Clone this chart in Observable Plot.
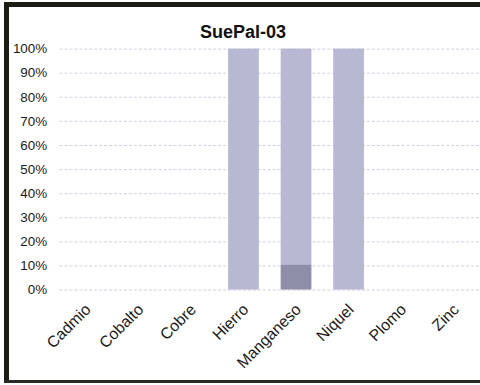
<!DOCTYPE html>
<html>
<head>
<meta charset="utf-8">
<script src="https://cdn.jsdelivr.net/npm/d3@7"></script>
<script src="https://cdn.jsdelivr.net/npm/@observablehq/plot@0.6"></script>
<style>
  html, body { margin: 0; padding: 0; background: #fff; overflow: hidden; }
  body { width: 480px; height: 385px; position: relative; font-family: "Liberation Sans", Arial, sans-serif; }
  .edge { position: absolute; background: #1c1c16; }
  #edge-left { left: 4px; top: 2px; width: 5px; height: 381px; }
  #edge-top { left: 4px; top: 2px; width: 476px; height: 5px; }
  #edge-bottom { left: 4px; top: 380px; width: 476px; height: 3px; background: #2a2a24; }
  #title { position: absolute; left: 0; width: 486px; top: 22px; text-align: center;
           font-size: 18px; font-weight: bold; color: #111; }
  #chart { position: absolute; left: 0; top: 0; width: 480px; height: 385px; overflow: hidden; }
</style>
</head>
<body>
<div class="edge" id="edge-left"></div>
<div class="edge" id="edge-top"></div>
<div class="edge" id="edge-bottom"></div>
<div id="title">SuePal-03</div>
<div id="chart"></div>
<script>
// Metals analysed in sample SuePal-03
const categories = ["Cadmio", "Cobalto", "Cobre", "Hierro", "Manganeso", "Niquel", "Plomo", "Zinc"];
// Share of each metal per series, in percent (stacked to 100%)
const lowerSeries = [0, 0, 0, 0, 10.5, 0, 0, 0];
const upperSeries = [0, 0, 0, 100, 89.5, 100, 0, 0];
const yTicks = [0, 10, 20, 30, 40, 50, 60, 70, 80, 90, 100];

const rows = [];
categories.forEach((c, i) => {
  rows.push({metal: c, serie: "inferior", value: lowerSeries[i]});
  rows.push({metal: c, serie: "superior", value: upperSeries[i]});
});

const chart = Plot.plot({
  width: 484,
  height: 385,
  marginLeft: 60,
  marginRight: 0,
  marginTop: 49,
  marginBottom: 93,
  style: {fontFamily: "Liberation Sans, Arial, sans-serif", fontSize: "13px", color: "#1a1a1a", background: "transparent"},
  x: {domain: categories, paddingInner: 0.415, paddingOuter: 0.2075, label: null},
  y: {domain: [0, 100], label: null},
  color: {domain: ["inferior", "superior"], range: ["#8e8ea8", "#b8b8d2"]},
  marks: [
    Plot.gridY(yTicks, {stroke: "#8a8ac0", strokeOpacity: 0.4, strokeDasharray: "3,2", strokeWidth: 1}),
    Plot.barY(rows, {x: "metal", y: "value", fill: "serie"}),
    Plot.axisY(yTicks, {tickSize: 0, tickPadding: 13, tickFormat: d => d + "%", fontSize: 13.5, label: null}),
    Plot.axisX({tickSize: 0, tickPadding: 8, tickRotate: -45, fontSize: 16, dy: 9, dx: 2, label: null})
  ]
});
document.getElementById("chart").appendChild(chart);
</script>
</body>
</html>
